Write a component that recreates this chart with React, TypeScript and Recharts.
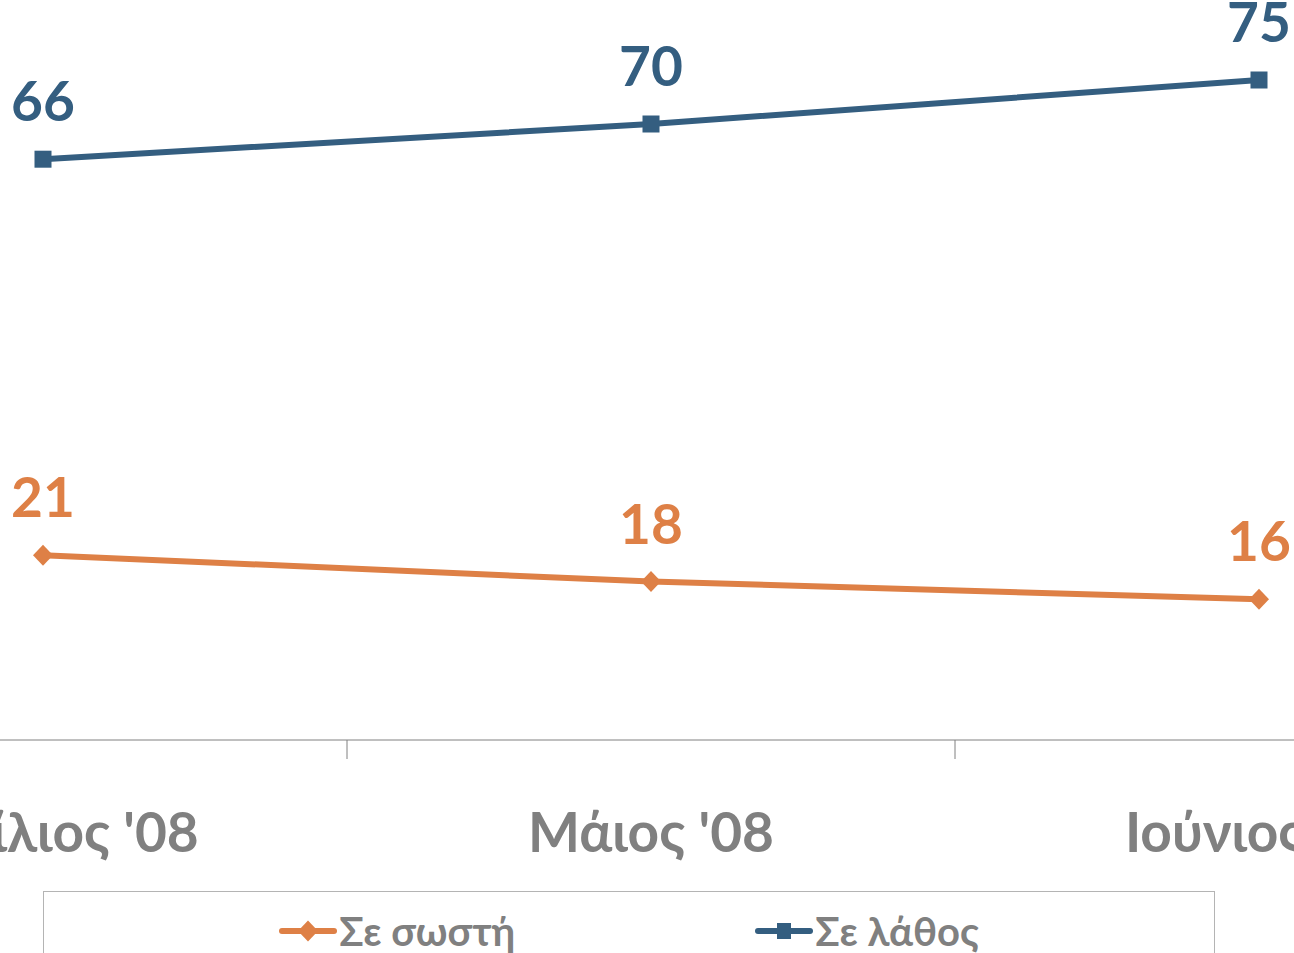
import { LineChart, Line, XAxis, YAxis, Legend, LabelList } from 'recharts'

const months = ["Απρίλιος '08", "Μάιος '08", "Ιούνιος '08"]
const correctValues = [21, 18, 16]
const wrongValues = [66, 70, 75]
const seriesNames = ['Σε σωστή', 'Σε λάθος']

const ORANGE = '#DE8046'
const BLUE = '#345E80'
const GRAY = '#808080'
const FONT = 'Lato, "Noto Sans", sans-serif'

const data = months.map((m, i) => ({
  idx: i,
  month: m,
  correct: correctValues[i],
  wrong: wrongValues[i],
}))

// half positions get a tick mark, whole positions get the month label
const axisTicks = [-0.5, 0, 0.5, 1, 1.5, 2, 2.5]

function MonthTick(props: any) {
  const { x, y, payload } = props
  const v = payload.value
  if (!Number.isInteger(v)) {
    return <line x1={x} x2={x} y1={y} y2={y + 19} stroke={GRAY} strokeWidth={1} />
  }
  return (
    <text
      x={x}
      y={y + 112}
      textAnchor="middle"
      fill={GRAY}
      fontFamily={FONT}
      fontWeight={700}
      fontSize={55}
    >
      {months[v]}
    </text>
  )
}

function SquareDot(props: any) {
  const { cx, cy } = props
  if (cx == null || cy == null) return null
  return <rect x={cx - 8.5} y={cy - 8.5} width={17} height={17} fill={BLUE} />
}

function DiamondDot(props: any) {
  const { cx, cy } = props
  if (cx == null || cy == null) return null
  return (
    <path
      d={`M${cx},${cy - 10.5} L${cx + 10},${cy} L${cx},${cy + 10.5} L${cx - 10},${cy} Z`}
      fill={ORANGE}
    />
  )
}

function valueLabel(color: string) {
  return (props: any) => {
    const { x, y, value } = props
    return (
      <text
        x={x}
        y={y - 38}
        textAnchor="middle"
        fill={color}
        fontFamily={FONT}
        fontWeight={700}
        fontSize={55}
      >
        {value}
      </text>
    )
  }
}

function LegendIcon({ color, shape }: { color: string; shape: 'diamond' | 'square' }) {
  return (
    <svg width={58} height={24} style={{ display: 'block' }}>
      <line x1={3} x2={55} y1={12} y2={12} stroke={color} strokeWidth={6} strokeLinecap="round" />
      {shape === 'diamond' ? (
        <path d="M29,1.5 L39,12 L29,22.5 L19,12 Z" fill={color} />
      ) : (
        <rect x={22} y={4} width={14} height={16} fill={color} />
      )}
    </svg>
  )
}

function ChartLegend() {
  const items = [
    { name: seriesNames[0], color: ORANGE, shape: 'diamond' as const },
    { name: seriesNames[1], color: BLUE, shape: 'square' as const },
  ]
  return (
    <div
      style={{
        boxSizing: 'border-box',
        width: '100%',
        height: 100,
        border: '1px solid #B4B4B4',
        display: 'flex',
        justifyContent: 'center',
        gap: 240,
        paddingTop: 14,
        fontFamily: FONT,
      }}
    >
      {items.map((it) => (
        <div key={it.name} style={{ display: 'flex', alignItems: 'center', height: 50 }}>
          <LegendIcon color={it.color} shape={it.shape} />
          <span style={{ color: GRAY, fontWeight: 700, fontSize: 40, marginLeft: 2 }}>{it.name}</span>
        </div>
      ))}
    </div>
  )
}

export default function App() {
  return (
    <div
      style={{
        position: 'absolute',
        left: 0,
        top: 0,
        width: 1294,
        height: 953,
        overflow: 'hidden',
        background: '#fff',
      }}
    >
      <div style={{ position: 'absolute', left: -261, top: 0 }}>
        <LineChart width={1824} height={953} data={data} margin={{ top: 36, right: 0, bottom: 0, left: 0 }}>
          <XAxis
            type="number"
            dataKey="idx"
            domain={[-0.5, 2.5]}
            ticks={axisTicks}
            interval={0}
            height={213}
            tickLine={false}
            tickSize={0}
            tickMargin={0}
            axisLine={{ stroke: GRAY, strokeWidth: 1 }}
            tick={<MonthTick />}
          />
          <YAxis hide domain={[0, 80]} />
          <Legend
            layout="horizontal"
            verticalAlign="middle"
            align="center"
            wrapperStyle={{ left: 304, top: 891, width: 1172, height: 100 }}
            content={() => <ChartLegend />}
          />
          <Line
            dataKey="correct"
            name={seriesNames[0]}
            stroke={ORANGE}
            strokeWidth={6}
            dot={<DiamondDot />}
            activeDot={false}
            isAnimationActive={false}
          >
            <LabelList dataKey="correct" content={valueLabel(ORANGE)} />
          </Line>
          <Line
            dataKey="wrong"
            name={seriesNames[1]}
            stroke={BLUE}
            strokeWidth={6}
            dot={<SquareDot />}
            activeDot={false}
            isAnimationActive={false}
          >
            <LabelList dataKey="wrong" content={valueLabel(BLUE)} />
          </Line>
        </LineChart>
      </div>
    </div>
  )
}
